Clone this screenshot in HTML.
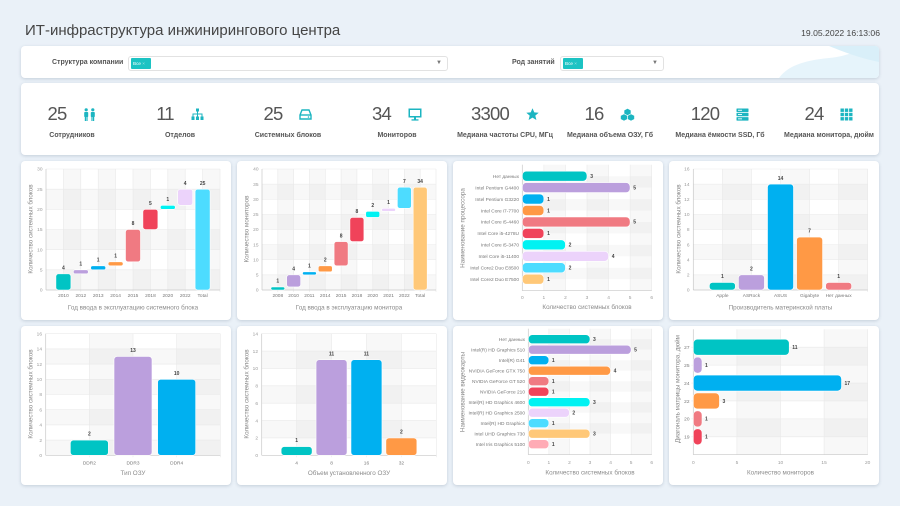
<!DOCTYPE html>
<html><head><meta charset="utf-8">
<style>
*{margin:0;padding:0;box-sizing:border-box}
body{width:900px;height:506px;background:#eaf1f8;font-family:"Liberation Sans","Noto Sans CJK SC",sans-serif;position:relative;overflow:hidden}
.p{position:absolute;background:#fff;border-radius:4px;box-shadow:0 1px 3px rgba(60,80,110,0.22)}
.title{position:absolute;left:25px;top:22px;font-size:15px;color:#454545;white-space:nowrap}
.date{position:absolute;right:20px;top:28px;font-size:8.6px;color:#444;white-space:nowrap}
.flbl{position:absolute;font-size:7px;color:#555;font-weight:bold;white-space:nowrap}
.sel{position:absolute;height:15px;background:#fff;border:1px solid #e2e2e2;border-radius:3px}
.tag{position:absolute;left:2px;top:1.5px;height:11px;background:#1cc3c3;color:#fff;font-size:4.6px;line-height:11px;padding-left:2px;border-radius:1px}
.arr{position:absolute;right:5px;top:3px;font-size:6px;color:#777}
.kcol{position:absolute;top:0;width:108px;height:72px}
.knum{position:absolute;left:0;right:0;top:20px;display:flex;justify-content:center;align-items:center;gap:17px}
.knum span{font-size:18.5px;color:#555;letter-spacing:-0.8px;line-height:22px}
.klbl{position:absolute;left:0;right:0;top:49px;text-align:center;font-size:7px;font-weight:bold;color:#555;white-space:nowrap}
svg text{font-family:"Liberation Sans",sans-serif}
.t{font-size:4.8px;fill:#9a9a9a}
.c{font-size:4.8px;fill:#777}
.v{font-size:5px;fill:#444;font-weight:bold}
.at{font-size:6.3px;fill:#8a8a8a}
.g{stroke:#e9e9e9;stroke-width:0.6}
.ax{stroke:#c8c8c8;stroke-width:0.7}
.b{fill:#000;fill-opacity:0.028}
.bars rect{stroke:#fff;stroke-width:0.6}
</style></head><body>

<div class="title">ИТ-инфраструктура инжинирингового центра</div>
<div class="date">19.05.2022 16:13:06</div>

<!-- Filter panel -->
<div class="p" style="left:21px;top:46px;width:858px;height:32px;overflow:hidden">
  <svg style="position:absolute;right:0;top:0" width="120" height="32" viewBox="0 0 120 32">
    <path d="M20 32 C30 18 50 14 70 12 C90 10 100 4 105 0 L120 0 L120 32 Z" fill="#e6f4fb"/>
    <path d="M70 0 C85 6 100 12 120 16 L120 0 Z" fill="#d9eff9"/>
  </svg>
  <div class="flbl" style="left:31px;top:13px">Структура компании</div>
  <div class="sel" style="left:107px;top:9.5px;width:320px"><div class="tag" style="width:20px">Все <span style="color:#9fe3e3">×</span></div><div class="arr">▼</div></div>
  <div class="flbl" style="left:491px;top:13px">Род занятий</div>
  <div class="sel" style="left:539px;top:9.5px;width:104px"><div class="tag" style="width:20px">Все <span style="color:#9fe3e3">×</span></div><div class="arr">▼</div></div>
</div>

<!-- KPI panel -->
<div class="p" style="left:21px;top:83px;width:858px;height:72px">
  <div class="kcol" style="left:-3px"><div class="knum"><span>25</span>
    <svg width="13" height="13" viewBox="0 0 13 13"><g fill="#1cb5c1"><circle cx="3.2" cy="1.8" r="1.6"/><circle cx="9.8" cy="1.8" r="1.6"/><rect x="1.2" y="4" width="4" height="5" rx="0.8"/><rect x="7.8" y="4" width="4" height="5" rx="0.8"/><rect x="1.8" y="8" width="1.2" height="5"/><rect x="3.4" y="8" width="1.2" height="5"/><rect x="8.4" y="8" width="1.2" height="5"/><rect x="10" y="8" width="1.2" height="5"/></g></svg></div>
    <div class="klbl">Сотрудников</div></div>
  <div class="kcol" style="left:105px"><div class="knum"><span>11</span>
    <svg width="13" height="13" viewBox="0 0 13 13"><g fill="#1cb5c1"><rect x="5" y="0.5" width="3" height="3"/><rect x="6" y="3.5" width="1" height="2.5"/><rect x="1.5" y="5.5" width="10" height="1"/><rect x="1.5" y="5.5" width="1" height="3"/><rect x="10.5" y="5.5" width="1" height="3"/><rect x="6" y="5.5" width="1" height="3"/><rect x="0.5" y="8.5" width="3" height="3.5"/><rect x="5" y="8.5" width="3" height="3.5"/><rect x="9.5" y="8.5" width="3" height="3.5"/></g></svg></div>
    <div class="klbl">Отделов</div></div>
  <div class="kcol" style="left:213px"><div class="knum"><span>25</span>
    <svg width="13" height="13" viewBox="0 0 13 13"><g fill="none" stroke="#1cb5c1" stroke-width="1.4"><path d="M3 2 L10 2 L12 7 L12 11 L1 11 L1 7 Z"/><line x1="1" y1="7" x2="12" y2="7"/></g><circle cx="9.5" cy="9" r="0.8" fill="#1cb5c1"/></svg></div>
    <div class="klbl">Системных блоков</div></div>
  <div class="kcol" style="left:322px"><div class="knum"><span>34</span>
    <svg width="14" height="13" viewBox="0 0 14 13"><g fill="#1cb5c1"><path d="M0.5 0.5 H13.5 V9.5 H0.5 Z M2 2 V8 H12 V2 Z" fill-rule="evenodd"/><rect x="6" y="9.5" width="2" height="2"/><rect x="3.5" y="11.3" width="7" height="1.3"/></g></svg></div>
    <div class="klbl">Мониторов</div></div>
  <div class="kcol" style="left:430px"><div class="knum"><span>3300</span>
    <svg width="13" height="13" viewBox="0 0 13 13"><path fill="#1cb5c1" d="M6.5 0.3 L8.3 4.4 L12.7 4.7 L9.3 7.6 L10.4 12 L6.5 9.6 L2.6 12 L3.7 7.6 L0.3 4.7 L4.7 4.4 Z"/></svg></div>
    <div class="klbl">Медиана частоты CPU, МГц</div></div>
  <div class="kcol" style="left:535px"><div class="knum"><span>16</span>
    <svg width="15" height="13" viewBox="0 0 15 13"><g fill="#1cb5c1" stroke="#fff" stroke-width="0.6"><path d="M7.5 0.3 L11 2.2 L11 6 L7.5 7.8 L4 6 L4 2.2 Z"/><path d="M4 5.8 L7.5 7.6 L7.5 11.3 L4 13 L0.5 11.3 L0.5 7.6 Z"/><path d="M11 5.8 L14.5 7.6 L14.5 11.3 L11 13 L7.5 11.3 L7.5 7.6 Z"/></g></svg></div>
    <div class="klbl">Медиана объема ОЗУ, Гб</div></div>
  <div class="kcol" style="left:645px"><div class="knum"><span>120</span>
    <svg width="13" height="13" viewBox="0 0 13 13"><g fill="#1cb5c1"><rect x="0.5" y="0.5" width="12" height="3.5" rx="0.5"/><rect x="0.5" y="4.8" width="12" height="3.5" rx="0.5"/><rect x="0.5" y="9.1" width="12" height="3.5" rx="0.5"/></g><g fill="#fff"><rect x="2" y="1.8" width="4" height="0.9"/><rect x="2" y="6.1" width="4" height="0.9"/><rect x="2" y="10.4" width="4" height="0.9"/></g></svg></div>
    <div class="klbl">Медиана ёмкости SSD, Гб</div></div>
  <div class="kcol" style="left:754px"><div class="knum"><span>24</span>
    <svg width="13" height="13" viewBox="0 0 13 13"><g fill="#1cb5c1"><rect x="0.5" y="0.5" width="3.4" height="3.4"/><rect x="4.8" y="0.5" width="3.4" height="3.4"/><rect x="9.1" y="0.5" width="3.4" height="3.4"/><rect x="0.5" y="4.8" width="3.4" height="3.4"/><rect x="4.8" y="4.8" width="3.4" height="3.4"/><rect x="9.1" y="4.8" width="3.4" height="3.4"/><rect x="0.5" y="9.1" width="3.4" height="3.4"/><rect x="4.8" y="9.1" width="3.4" height="3.4"/><rect x="9.1" y="9.1" width="3.4" height="3.4"/></g></svg></div>
    <div class="klbl">Медиана монитора, дюйм</div></div>
</div>

<!-- Chart 1 -->
<div class="p" style="left:21px;top:161px;width:210px;height:159px">
<svg width="210" height="159" viewBox="0 0 210 159">
  <rect class="b" x="42.4" y="8" width="17.4" height="121"/><rect class="b" x="77.2" y="8" width="17.4" height="121"/><rect class="b" x="112" y="8" width="17.4" height="121"/><rect class="b" x="146.8" y="8" width="17.4" height="121"/><rect class="b" x="181.6" y="8" width="17.4" height="121"/>
  <rect class="b" x="25" y="28.17" width="174" height="20.16"/><rect class="b" x="25" y="68.5" width="174" height="20.17"/><rect class="b" x="25" y="108.83" width="174" height="20.17"/>
  <g class="g"><line x1="25" y1="8" x2="199" y2="8"/><line x1="25" y1="28.17" x2="199" y2="28.17"/><line x1="25" y1="48.33" x2="199" y2="48.33"/><line x1="25" y1="68.5" x2="199" y2="68.5"/><line x1="25" y1="88.67" x2="199" y2="88.67"/><line x1="25" y1="108.83" x2="199" y2="108.83"/>
  <line x1="42.4" y1="8" x2="42.4" y2="131"/><line x1="59.8" y1="8" x2="59.8" y2="131"/><line x1="77.2" y1="8" x2="77.2" y2="131"/><line x1="94.6" y1="8" x2="94.6" y2="131"/><line x1="112" y1="8" x2="112" y2="131"/><line x1="129.4" y1="8" x2="129.4" y2="131"/><line x1="146.8" y1="8" x2="146.8" y2="131"/><line x1="164.2" y1="8" x2="164.2" y2="131"/><line x1="181.6" y1="8" x2="181.6" y2="131"/><line x1="199" y1="8" x2="199" y2="131"/></g>
  <g class="ax"><line x1="25" y1="8" x2="25" y2="129"/><line x1="25" y1="129" x2="199" y2="129"/></g>
  <g class="t" text-anchor="end"><text x="21.5" y="130.7">0</text><text x="21.5" y="110.5">5</text><text x="21.5" y="90.4">10</text><text x="21.5" y="70.2">15</text><text x="21.5" y="50">20</text><text x="21.5" y="29.9">25</text><text x="21.5" y="9.7">30</text></g>
  <g class="bars">
  <rect x="34.9" y="112.87" width="15" height="16.13" rx="2.5" fill="#00c4c4"/>
  <rect x="52.3" y="108.83" width="15" height="4.03" rx="2" fill="#bb9fdd"/>
  <rect x="69.7" y="104.8" width="15" height="4.03" rx="2" fill="#00b0f0"/>
  <rect x="87.1" y="100.77" width="15" height="4.03" rx="2" fill="#ff9945"/>
  <rect x="104.5" y="68.5" width="15" height="32.27" rx="2.5" fill="#f07a82"/>
  <rect x="121.9" y="48.33" width="15" height="20.17" rx="2.5" fill="#f0435a"/>
  <rect x="139.3" y="44.3" width="15" height="4.03" rx="2" fill="#00f2f2"/>
  <rect x="156.7" y="28.17" width="15" height="16.13" rx="2.5" fill="#ecd3fb"/>
  <rect x="174.1" y="28.17" width="15" height="100.83" rx="2.5" fill="#4ddcff"/>
  </g>
  <g class="v" text-anchor="middle"><text x="42.4" y="108.5">4</text><text x="59.8" y="104.5">1</text><text x="77.2" y="100.5">1</text><text x="94.6" y="96.5">1</text><text x="112" y="64.2">8</text><text x="129.4" y="44">5</text><text x="146.8" y="40">1</text><text x="164.2" y="23.9">4</text><text x="181.6" y="23.9">25</text></g>
  <g class="c" text-anchor="middle"><text x="42.4" y="136">2010</text><text x="59.8" y="136">2012</text><text x="77.2" y="136">2013</text><text x="94.6" y="136">2014</text><text x="112" y="136">2015</text><text x="129.4" y="136">2018</text><text x="146.8" y="136">2020</text><text x="164.2" y="136">2022</text><text x="181.6" y="136">Total</text></g>
  <text class="at" x="112" y="148.5" text-anchor="middle">Год ввода в эксплуатацию системного блока</text>
  <text class="at" font-size="6" transform="translate(11.5,68) rotate(-90)" text-anchor="middle">Количество системных блоков</text>
</svg></div>

<!-- Chart 2 -->
<div class="p" style="left:237px;top:161px;width:210px;height:159px">
<svg width="210" height="159" viewBox="0 0 210 159">
  <rect class="b" x="40.82" y="8" width="15.82" height="121"/><rect class="b" x="72.45" y="8" width="15.82" height="121"/><rect class="b" x="104.09" y="8" width="15.82" height="121"/><rect class="b" x="135.73" y="8" width="15.82" height="121"/><rect class="b" x="167.36" y="8" width="15.82" height="121"/>
  <rect class="b" x="25" y="23.13" width="174" height="15.12"/><rect class="b" x="25" y="53.38" width="174" height="15.12"/><rect class="b" x="25" y="83.63" width="174" height="15.12"/><rect class="b" x="25" y="113.88" width="174" height="15.12"/>
  <g class="g"><line x1="25" y1="8" x2="199" y2="8"/><line x1="25" y1="23.13" x2="199" y2="23.13"/><line x1="25" y1="38.25" x2="199" y2="38.25"/><line x1="25" y1="53.38" x2="199" y2="53.38"/><line x1="25" y1="68.5" x2="199" y2="68.5"/><line x1="25" y1="83.63" x2="199" y2="83.63"/><line x1="25" y1="98.75" x2="199" y2="98.75"/><line x1="25" y1="113.88" x2="199" y2="113.88"/>
  <line x1="40.82" y1="8" x2="40.82" y2="131"/><line x1="56.64" y1="8" x2="56.64" y2="131"/><line x1="72.45" y1="8" x2="72.45" y2="131"/><line x1="88.27" y1="8" x2="88.27" y2="131"/><line x1="104.09" y1="8" x2="104.09" y2="131"/><line x1="119.91" y1="8" x2="119.91" y2="131"/><line x1="135.73" y1="8" x2="135.73" y2="131"/><line x1="151.55" y1="8" x2="151.55" y2="131"/><line x1="167.36" y1="8" x2="167.36" y2="131"/><line x1="183.18" y1="8" x2="183.18" y2="131"/><line x1="199" y1="8" x2="199" y2="131"/></g>
  <g class="ax"><line x1="25" y1="8" x2="25" y2="129"/><line x1="25" y1="129" x2="199" y2="129"/></g>
  <g class="t" text-anchor="end"><text x="21.5" y="130.7">0</text><text x="21.5" y="115.6">5</text><text x="21.5" y="100.5">10</text><text x="21.5" y="85.3">15</text><text x="21.5" y="70.2">20</text><text x="21.5" y="55.1">25</text><text x="21.5" y="40">30</text><text x="21.5" y="24.8">35</text><text x="21.5" y="9.7">40</text></g>
  <g class="bars">
  <rect x="33.82" y="125.98" width="14" height="3.03" rx="1.5" fill="#00c4c4"/>
  <rect x="49.64" y="113.88" width="14" height="12.1" rx="2.5" fill="#bb9fdd"/>
  <rect x="65.45" y="110.85" width="14" height="3.03" rx="1.5" fill="#00b0f0"/>
  <rect x="81.27" y="104.8" width="14" height="6.05" rx="2" fill="#ff9945"/>
  <rect x="97.09" y="80.6" width="14" height="24.2" rx="2.5" fill="#f07a82"/>
  <rect x="112.91" y="56.4" width="14" height="24.2" rx="2.5" fill="#f0435a"/>
  <rect x="128.73" y="50.35" width="14" height="6.05" rx="2" fill="#00f2f2"/>
  <rect x="144.55" y="47.33" width="14" height="3.03" rx="1.5" fill="#ecd3fb"/>
  <rect x="160.36" y="26.15" width="14" height="21.18" rx="2.5" fill="#4ddcff"/>
  <rect x="176.18" y="26.15" width="14" height="102.85" rx="2.5" fill="#ffc878"/>
  </g>
  <g class="v" text-anchor="middle"><text x="40.82" y="121.7">1</text><text x="56.64" y="109.6">4</text><text x="72.45" y="106.5">1</text><text x="88.27" y="100.5">2</text><text x="104.09" y="76.3">8</text><text x="119.91" y="52.1">8</text><text x="135.73" y="46">2</text><text x="151.55" y="43">1</text><text x="167.36" y="21.9">7</text><text x="183.18" y="21.9">34</text></g>
  <g class="c" text-anchor="middle"><text x="40.82" y="136">2008</text><text x="56.64" y="136">2010</text><text x="72.45" y="136">2011</text><text x="88.27" y="136">2014</text><text x="104.09" y="136">2015</text><text x="119.91" y="136">2018</text><text x="135.73" y="136">2020</text><text x="151.55" y="136">2021</text><text x="167.36" y="136">2022</text><text x="183.18" y="136">Total</text></g>
  <text class="at" x="112" y="148.5" text-anchor="middle">Год ввода в эксплуатацию монитора</text>
  <text class="at" font-size="6" transform="translate(11.5,68) rotate(-90)" text-anchor="middle">Количество мониторов</text>
</svg></div>

<!-- Chart 3 -->
<div class="p" style="left:453px;top:161px;width:210px;height:159px">
<svg width="210" height="159" viewBox="0 0 210 159">
  <rect class="b" x="90.87" y="3.7" width="21.57" height="126"/><rect class="b" x="134" y="3.7" width="21.57" height="126"/><rect class="b" x="177.13" y="3.7" width="21.57" height="126"/>
  <rect class="b" x="69.3" y="15.15" width="129.4" height="11.45"/><rect class="b" x="69.3" y="38.05" width="129.4" height="11.45"/><rect class="b" x="69.3" y="60.95" width="129.4" height="11.45"/><rect class="b" x="69.3" y="83.85" width="129.4" height="11.45"/><rect class="b" x="69.3" y="106.75" width="129.4" height="11.45"/>
  <g class="g"><line x1="90.87" y1="3.7" x2="90.87" y2="129.7"/><line x1="112.43" y1="3.7" x2="112.43" y2="129.7"/><line x1="134" y1="3.7" x2="134" y2="129.7"/><line x1="155.57" y1="3.7" x2="155.57" y2="129.7"/><line x1="177.13" y1="3.7" x2="177.13" y2="129.7"/><line x1="198.7" y1="3.7" x2="198.7" y2="129.7"/></g>
  <g class="ax"><line x1="69.3" y1="3.7" x2="69.3" y2="129.7"/><line x1="69.3" y1="129.7" x2="198.7" y2="129.7"/></g>
  <g class="bars">
  <rect x="69.3" y="10.15" width="64.7" height="10" rx="4" fill="#00c4c4"/>
  <rect x="69.3" y="21.6" width="107.8" height="10" rx="4" fill="#bb9fdd"/>
  <rect x="69.3" y="33.05" width="21.57" height="10" rx="4" fill="#00b0f0"/>
  <rect x="69.3" y="44.5" width="21.57" height="10" rx="4" fill="#ff9945"/>
  <rect x="69.3" y="55.95" width="107.8" height="10" rx="4" fill="#f07a82"/>
  <rect x="69.3" y="67.4" width="21.57" height="10" rx="4" fill="#f0435a"/>
  <rect x="69.3" y="78.85" width="43.13" height="10" rx="4" fill="#00f2f2"/>
  <rect x="69.3" y="90.3" width="86.27" height="10" rx="4" fill="#ecd3fb"/>
  <rect x="69.3" y="101.75" width="43.13" height="10" rx="4" fill="#4ddcff"/>
  <rect x="69.3" y="113.2" width="21.57" height="10" rx="4" fill="#ffc878"/>
  </g>
  <g class="v"><text x="137.2" y="16.9">3</text><text x="180.3" y="28.4">5</text><text x="94.1" y="39.8">1</text><text x="94.1" y="51.3">1</text><text x="180.3" y="62.7">5</text><text x="94.1" y="74.2">1</text><text x="115.6" y="85.6">2</text><text x="158.8" y="97.1">4</text><text x="115.6" y="108.5">2</text><text x="94.1" y="120">1</text></g>
  <g class="c" text-anchor="end"><text x="66" y="16.9">Нет данных</text><text x="66" y="28.4">Intel Pentium G4400</text><text x="66" y="39.8">Intel Pentium G3220</text><text x="66" y="51.3">Intel Core i7-7700</text><text x="66" y="62.7">Intel Core i5-4460</text><text x="66" y="74.2">Intel Core i5-4278U</text><text x="66" y="85.6">Intel Core i5-3470</text><text x="66" y="97.1">Intel Core i5-11400</text><text x="66" y="108.5">Intel Core2 Duo E8500</text><text x="66" y="120">Intel Core2 Duo E7500</text></g>
  <g class="t" text-anchor="middle"><text x="69.3" y="138">0</text><text x="90.87" y="138">1</text><text x="112.43" y="138">2</text><text x="134" y="138">3</text><text x="155.57" y="138">4</text><text x="177.13" y="138">5</text><text x="198.7" y="138">6</text></g>
  <text class="at" x="134" y="148" text-anchor="middle">Количество системных блоков</text>
  <text class="at" font-size="6" transform="translate(11.5,67) rotate(-90)" text-anchor="middle">Наименование процессора</text>
</svg></div>

<!-- Chart 4 -->
<div class="p" style="left:669px;top:161px;width:210px;height:159px">
<svg width="210" height="159" viewBox="0 0 210 159">
  <rect class="b" x="53.37" y="8" width="29.07" height="121"/><rect class="b" x="111.5" y="8" width="29.07" height="121"/><rect class="b" x="169.63" y="8" width="29.07" height="121"/>
  <rect class="b" x="24.3" y="23.13" width="174.4" height="15.12"/><rect class="b" x="24.3" y="53.38" width="174.4" height="15.12"/><rect class="b" x="24.3" y="83.63" width="174.4" height="15.12"/><rect class="b" x="24.3" y="113.88" width="174.4" height="15.12"/>
  <g class="g"><line x1="24.3" y1="8" x2="198.7" y2="8"/><line x1="24.3" y1="23.13" x2="198.7" y2="23.13"/><line x1="24.3" y1="38.25" x2="198.7" y2="38.25"/><line x1="24.3" y1="53.38" x2="198.7" y2="53.38"/><line x1="24.3" y1="68.5" x2="198.7" y2="68.5"/><line x1="24.3" y1="83.63" x2="198.7" y2="83.63"/><line x1="24.3" y1="98.75" x2="198.7" y2="98.75"/><line x1="24.3" y1="113.88" x2="198.7" y2="113.88"/>
  <line x1="53.37" y1="8" x2="53.37" y2="131"/><line x1="82.43" y1="8" x2="82.43" y2="131"/><line x1="111.5" y1="8" x2="111.5" y2="131"/><line x1="140.57" y1="8" x2="140.57" y2="131"/><line x1="169.63" y1="8" x2="169.63" y2="131"/><line x1="198.7" y1="8" x2="198.7" y2="131"/></g>
  <g class="ax"><line x1="24.3" y1="8" x2="24.3" y2="129"/><line x1="24.3" y1="129" x2="198.7" y2="129"/></g>
  <g class="t" text-anchor="end"><text x="20.5" y="130.7">0</text><text x="20.5" y="115.6">2</text><text x="20.5" y="100.5">4</text><text x="20.5" y="85.3">6</text><text x="20.5" y="70.2">8</text><text x="20.5" y="55.1">10</text><text x="20.5" y="40">12</text><text x="20.5" y="24.8">14</text><text x="20.5" y="9.7">16</text></g>
  <g class="bars">
  <rect x="40.37" y="121.44" width="26" height="7.56" rx="3" fill="#00c4c4"/>
  <rect x="69.43" y="113.88" width="26" height="15.12" rx="3" fill="#bb9fdd"/>
  <rect x="98.5" y="23.13" width="26" height="105.87" rx="3" fill="#00b0f0"/>
  <rect x="127.57" y="76.06" width="26" height="52.94" rx="3" fill="#ff9945"/>
  <rect x="156.63" y="121.44" width="26" height="7.56" rx="3" fill="#f07a82"/>
  </g>
  <g class="v" text-anchor="middle"><text x="53.37" y="117">1</text><text x="82.43" y="109.5">2</text><text x="111.5" y="18.8">14</text><text x="140.57" y="71.7">7</text><text x="169.63" y="117">1</text></g>
  <g class="c" text-anchor="middle"><text x="53.37" y="136">Apple</text><text x="82.43" y="136">ASRock</text><text x="111.5" y="136">ASUS</text><text x="140.57" y="136">Gigabyte</text><text x="169.63" y="136">Нет данных</text></g>
  <text class="at" x="111.5" y="148.5" text-anchor="middle">Производитель материнской платы</text>
  <text class="at" font-size="6" transform="translate(11.5,68) rotate(-90)" text-anchor="middle">Количество системных блоков</text>
</svg></div>

<!-- Chart 5 -->
<div class="p" style="left:21px;top:326px;width:210px;height:159px">
<svg width="210" height="159" viewBox="0 0 210 159">
  <rect class="b" x="68.35" y="7.7" width="43.65" height="121.6"/><rect class="b" x="155.65" y="7.7" width="43.65" height="121.6"/>
  <rect class="b" x="24.7" y="22.9" width="174.6" height="15.2"/><rect class="b" x="24.7" y="53.3" width="174.6" height="15.2"/><rect class="b" x="24.7" y="83.7" width="174.6" height="15.2"/><rect class="b" x="24.7" y="114.1" width="174.6" height="15.2"/>
  <g class="g"><line x1="24.7" y1="7.7" x2="199.3" y2="7.7"/><line x1="24.7" y1="22.9" x2="199.3" y2="22.9"/><line x1="24.7" y1="38.1" x2="199.3" y2="38.1"/><line x1="24.7" y1="53.3" x2="199.3" y2="53.3"/><line x1="24.7" y1="68.5" x2="199.3" y2="68.5"/><line x1="24.7" y1="83.7" x2="199.3" y2="83.7"/><line x1="24.7" y1="98.9" x2="199.3" y2="98.9"/><line x1="24.7" y1="114.1" x2="199.3" y2="114.1"/>
  <line x1="68.35" y1="7.7" x2="68.35" y2="131.3"/><line x1="112" y1="7.7" x2="112" y2="131.3"/><line x1="155.65" y1="7.7" x2="155.65" y2="131.3"/><line x1="199.3" y1="7.7" x2="199.3" y2="131.3"/></g>
  <g class="ax"><line x1="24.7" y1="7.7" x2="24.7" y2="129.3"/><line x1="24.7" y1="129.3" x2="199.3" y2="129.3"/></g>
  <g class="t" text-anchor="end"><text x="21" y="131">0</text><text x="21" y="115.8">2</text><text x="21" y="100.6">4</text><text x="21" y="85.4">6</text><text x="21" y="70.2">8</text><text x="21" y="55">10</text><text x="21" y="39.8">12</text><text x="21" y="24.6">14</text><text x="21" y="9.4">16</text></g>
  <g class="bars">
  <rect x="49.35" y="114.1" width="38" height="15.2" rx="3" fill="#00c4c4"/>
  <rect x="93" y="30.5" width="38" height="98.8" rx="3" fill="#bb9fdd"/>
  <rect x="136.65" y="53.3" width="38" height="76" rx="3" fill="#00b0f0"/>
  </g>
  <g class="v" text-anchor="middle"><text x="68.35" y="109.6">2</text><text x="112" y="26">13</text><text x="155.65" y="48.8">10</text></g>
  <g class="c" text-anchor="middle"><text x="68.35" y="138.5">DDR2</text><text x="112" y="138.5">DDR3</text><text x="155.65" y="138.5">DDR4</text></g>
  <text class="at" x="112" y="149" text-anchor="middle">Тип ОЗУ</text>
  <text class="at" font-size="6" transform="translate(11.5,68) rotate(-90)" text-anchor="middle">Количество системных блоков</text>
</svg></div>

<!-- Chart 6 -->
<div class="p" style="left:237px;top:326px;width:210px;height:159px">
<svg width="210" height="159" viewBox="0 0 210 159">
  <rect class="b" x="59.62" y="7.7" width="34.92" height="121.6"/><rect class="b" x="129.46" y="7.7" width="34.92" height="121.6"/>
  <rect class="b" x="24.7" y="25.08" width="174.6" height="17.37"/><rect class="b" x="24.7" y="59.82" width="174.6" height="17.37"/><rect class="b" x="24.7" y="94.56" width="174.6" height="17.37"/>
  <g class="g"><line x1="24.7" y1="7.7" x2="199.3" y2="7.7"/><line x1="24.7" y1="25.08" x2="199.3" y2="25.08"/><line x1="24.7" y1="42.45" x2="199.3" y2="42.45"/><line x1="24.7" y1="59.82" x2="199.3" y2="59.82"/><line x1="24.7" y1="77.19" x2="199.3" y2="77.19"/><line x1="24.7" y1="94.56" x2="199.3" y2="94.56"/><line x1="24.7" y1="111.93" x2="199.3" y2="111.93"/>
  <line x1="59.62" y1="7.7" x2="59.62" y2="131.3"/><line x1="94.54" y1="7.7" x2="94.54" y2="131.3"/><line x1="129.46" y1="7.7" x2="129.46" y2="131.3"/><line x1="164.38" y1="7.7" x2="164.38" y2="131.3"/><line x1="199.3" y1="7.7" x2="199.3" y2="131.3"/></g>
  <g class="ax"><line x1="24.7" y1="7.7" x2="24.7" y2="129.3"/><line x1="24.7" y1="129.3" x2="199.3" y2="129.3"/></g>
  <g class="t" text-anchor="end"><text x="21" y="131">0</text><text x="21" y="113.6">2</text><text x="21" y="96.3">4</text><text x="21" y="78.9">6</text><text x="21" y="61.5">8</text><text x="21" y="44.2">10</text><text x="21" y="26.8">12</text><text x="21" y="9.4">14</text></g>
  <g class="bars">
  <rect x="44.12" y="120.61" width="31" height="8.69" rx="3" fill="#00c4c4"/>
  <rect x="79.04" y="33.76" width="31" height="95.54" rx="3" fill="#bb9fdd"/>
  <rect x="113.96" y="33.76" width="31" height="95.54" rx="3" fill="#00b0f0"/>
  <rect x="148.88" y="111.93" width="31" height="17.37" rx="3" fill="#ff9945"/>
  </g>
  <g class="v" text-anchor="middle"><text x="59.62" y="116">1</text><text x="94.54" y="29.3">11</text><text x="129.46" y="29.3">11</text><text x="164.38" y="107.4">2</text></g>
  <g class="c" text-anchor="middle"><text x="59.62" y="138.5">4</text><text x="94.54" y="138.5">8</text><text x="129.46" y="138.5">16</text><text x="164.38" y="138.5">32</text></g>
  <text class="at" x="112" y="149" text-anchor="middle">Объем установленного ОЗУ</text>
  <text class="at" font-size="6" transform="translate(11.5,68) rotate(-90)" text-anchor="middle">Количество системных блоков</text>
</svg></div>

<!-- Chart 7 -->
<div class="p" style="left:453px;top:326px;width:210px;height:159px">
<svg width="210" height="159" viewBox="0 0 210 159">
  <rect class="b" x="95.87" y="2.7" width="20.57" height="126"/><rect class="b" x="137" y="2.7" width="20.57" height="126"/><rect class="b" x="178.13" y="2.7" width="20.57" height="126"/>
  <rect class="b" x="75.3" y="13.2" width="123.4" height="10.5"/><rect class="b" x="75.3" y="34.2" width="123.4" height="10.5"/><rect class="b" x="75.3" y="55.2" width="123.4" height="10.5"/><rect class="b" x="75.3" y="76.2" width="123.4" height="10.5"/><rect class="b" x="75.3" y="97.2" width="123.4" height="10.5"/>
  <g class="g"><line x1="95.87" y1="2.7" x2="95.87" y2="128.7"/><line x1="116.43" y1="2.7" x2="116.43" y2="128.7"/><line x1="137" y1="2.7" x2="137" y2="128.7"/><line x1="157.57" y1="2.7" x2="157.57" y2="128.7"/><line x1="178.13" y1="2.7" x2="178.13" y2="128.7"/><line x1="198.7" y1="2.7" x2="198.7" y2="128.7"/></g>
  <g class="ax"><line x1="75.3" y1="2.7" x2="75.3" y2="128.7"/><line x1="75.3" y1="128.7" x2="198.7" y2="128.7"/></g>
  <g class="bars">
  <rect x="75.3" y="8.7" width="61.7" height="9" rx="4" fill="#00c4c4"/>
  <rect x="75.3" y="19.2" width="102.83" height="9" rx="4" fill="#bb9fdd"/>
  <rect x="75.3" y="29.7" width="20.57" height="9" rx="4" fill="#00b0f0"/>
  <rect x="75.3" y="40.2" width="82.27" height="9" rx="4" fill="#ff9945"/>
  <rect x="75.3" y="50.7" width="20.57" height="9" rx="4" fill="#f07a82"/>
  <rect x="75.3" y="61.2" width="20.57" height="9" rx="4" fill="#f0435a"/>
  <rect x="75.3" y="71.7" width="61.7" height="9" rx="4" fill="#00f2f2"/>
  <rect x="75.3" y="82.2" width="41.13" height="9" rx="4" fill="#ecd3fb"/>
  <rect x="75.3" y="92.7" width="20.57" height="9" rx="4" fill="#4ddcff"/>
  <rect x="75.3" y="103.2" width="61.7" height="9" rx="4" fill="#ffc878"/>
  <rect x="75.3" y="113.7" width="20.57" height="9" rx="4" fill="#ffabb5"/>
  </g>
  <g class="v"><text x="140" y="15">3</text><text x="181.1" y="25.5">5</text><text x="98.9" y="36">1</text><text x="160.6" y="46.5">4</text><text x="98.9" y="57">1</text><text x="98.9" y="67.5">1</text><text x="140" y="78">3</text><text x="119.4" y="88.5">2</text><text x="98.9" y="99">1</text><text x="140" y="109.5">3</text><text x="98.9" y="120">1</text></g>
  <g class="c" text-anchor="end"><text x="72" y="15">Нет данных</text><text x="72" y="25.5">Intel(R) HD Graphics 510</text><text x="72" y="36">Intel(R) G41</text><text x="72" y="46.5">NVIDIA GeForce GTX 750</text><text x="72" y="57">NVIDIA GeForce GT 520</text><text x="72" y="67.5">NVIDIA GeForce 210</text><text x="72" y="78">Intel(R) HD Graphics 4600</text><text x="72" y="88.5">Intel(R) HD Graphics 2500</text><text x="72" y="99">Intel(R) HD Graphics</text><text x="72" y="109.5">Intel UHD Graphics 730</text><text x="72" y="120">Intel Iris Graphics 5100</text></g>
  <g class="t" text-anchor="middle"><text x="75.3" y="138">0</text><text x="95.87" y="138">1</text><text x="116.43" y="138">2</text><text x="137" y="138">3</text><text x="157.57" y="138">4</text><text x="178.13" y="138">5</text><text x="198.7" y="138">6</text></g>
  <text class="at" x="137" y="148.5" text-anchor="middle">Количество системных блоков</text>
  <text class="at" font-size="6" transform="translate(11.5,66) rotate(-90)" text-anchor="middle">Наименование видеокарты</text>
</svg></div>

<!-- Chart 8 -->
<div class="p" style="left:669px;top:326px;width:210px;height:159px">
<svg width="210" height="159" viewBox="0 0 210 159">
  <rect class="b" x="67.9" y="3.3" width="43.6" height="125.4"/><rect class="b" x="155.1" y="3.3" width="43.6" height="125.4"/>
  <rect class="b" x="24.3" y="21.21" width="174.4" height="17.92"/><rect class="b" x="24.3" y="57.04" width="174.4" height="17.92"/><rect class="b" x="24.3" y="92.87" width="174.4" height="17.92"/>
  <g class="g"><line x1="67.9" y1="3.3" x2="67.9" y2="128.7"/><line x1="111.5" y1="3.3" x2="111.5" y2="128.7"/><line x1="155.1" y1="3.3" x2="155.1" y2="128.7"/><line x1="198.7" y1="3.3" x2="198.7" y2="128.7"/>
  <line x1="22.3" y1="21.21" x2="198.7" y2="21.21"/><line x1="22.3" y1="39.13" x2="198.7" y2="39.13"/><line x1="22.3" y1="57.04" x2="198.7" y2="57.04"/><line x1="22.3" y1="74.96" x2="198.7" y2="74.96"/><line x1="22.3" y1="92.87" x2="198.7" y2="92.87"/><line x1="22.3" y1="110.79" x2="198.7" y2="110.79"/></g>
  <g class="ax"><line x1="24.3" y1="3.3" x2="24.3" y2="128.7"/><line x1="24.3" y1="128.7" x2="198.7" y2="128.7"/></g>
  <g class="bars">
  <rect x="24.3" y="13.21" width="95.92" height="16" rx="4" fill="#00c4c4"/>
  <rect x="24.3" y="31.13" width="8.72" height="16" rx="4" fill="#bb9fdd"/>
  <rect x="24.3" y="49.04" width="148.24" height="16" rx="4" fill="#00b0f0"/>
  <rect x="24.3" y="66.96" width="26.16" height="16" rx="4" fill="#ff9945"/>
  <rect x="24.3" y="84.87" width="8.72" height="16" rx="4" fill="#f07a82"/>
  <rect x="24.3" y="102.79" width="8.72" height="16" rx="4" fill="#f0435a"/>
  </g>
  <g class="v"><text x="123.2" y="23">11</text><text x="36" y="40.9">1</text><text x="175.5" y="58.8">17</text><text x="53.5" y="76.8">3</text><text x="36" y="94.7">1</text><text x="36" y="112.6">1</text></g>
  <g class="c" text-anchor="end"><text x="20.5" y="23">27</text><text x="20.5" y="40.9">25</text><text x="20.5" y="58.8">24</text><text x="20.5" y="76.8">22</text><text x="20.5" y="94.7">20</text><text x="20.5" y="112.6">19</text></g>
  <g class="t" text-anchor="middle"><text x="24.3" y="138">0</text><text x="67.9" y="138">5</text><text x="111.5" y="138">10</text><text x="155.1" y="138">15</text><text x="198.7" y="138">20</text></g>
  <text class="at" x="111.5" y="148.5" text-anchor="middle">Количество мониторов</text>
  <text class="at" font-size="6" transform="translate(10.5,63) rotate(-90)" text-anchor="middle">Диагональ матрицы монитора, дюйм</text>
</svg></div>

</body></html>
